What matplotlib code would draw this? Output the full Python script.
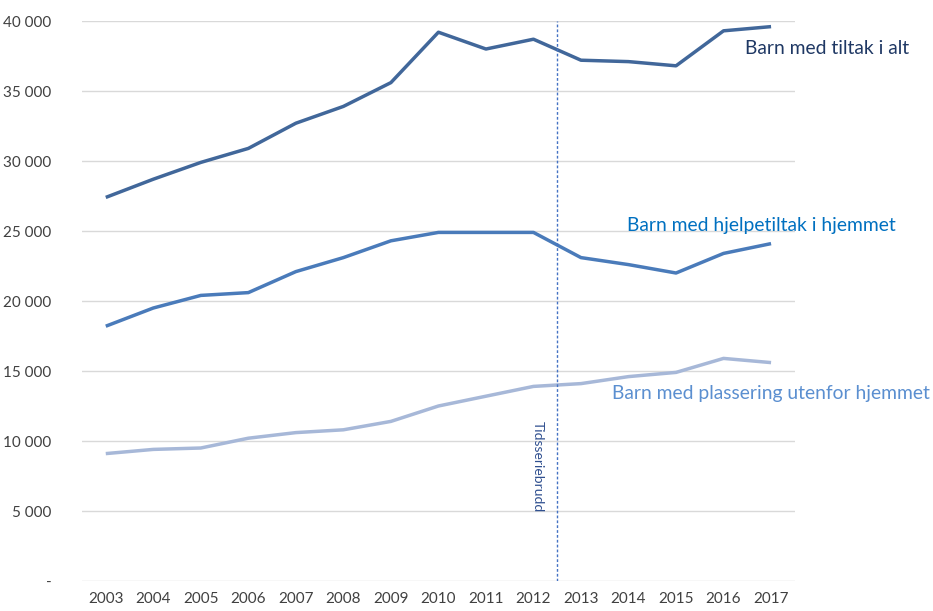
import numpy as np
import matplotlib.pyplot as plt

years = list(range(2003, 2018))
tiltak_i_alt = [27400, 28700, 29900, 30900, 32700, 33900, 35600, 39200, 38000, 38700,
                37200, 37100, 36800, 39300, 39600]
hjelpetiltak = [18200, 19500, 20400, 20600, 22100, 23100, 24300, 24900, 24900, 24900,
                23100, 22600, 22000, 23400, 24100]
plassering = [9100, 9400, 9500, 10200, 10600, 10800, 11400, 12500, 13200, 13900,
              14100, 14600, 14900, 15900, 15600]
yticks = [0, 5000, 10000, 15000, 20000, 25000, 30000, 35000, 40000]
ylabels = ['-', '5 000', '10 000', '15 000', '20 000', '25 000', '30 000', '35 000', '40 000']

plt.rcParams['font.family'] = ['Lato', 'DejaVu Sans']

W, H = 933, 611
fig = plt.figure(figsize=(W / 100, H / 100), dpi=100)
ax = fig.add_axes([0.0879, 0.0491, 0.764, 0.9165])

ax.plot(years, tiltak_i_alt, color='#41679A', lw=2.5, solid_capstyle='butt')
ax.plot(years, hjelpetiltak, color='#4A7BBA', lw=2.5, solid_capstyle='butt')
ax.plot(years, plassering, color='#A7B8D8', lw=2.5, solid_capstyle='butt')

ax.axvline(2012.5, color='#4472C4', lw=1, ls=(0, (2, 1.5)))
ax.text(2012.1, 8200, 'Tidsseriebrudd', rotation=-90, ha='center', va='center',
        fontsize=10, color='#2F4F8F')

# labels placed in figure pixels (from top-left)
def label(x, y, s, c):
    fig.text(x / W, 1 - y / H, s, fontsize=13.9, color=c, va='center', ha='left')

label(745, 49, 'Barn med tiltak i alt', '#1F3864')
label(627, 225, 'Barn med hjelpetiltak i hjemmet', '#0070C0')
label(612, 393, 'Barn med plassering utenfor hjemmet', '#5B8FD0')

ax.set_xlim(2002.5, 2017.5)
ax.set_ylim(0, 40000)
ax.set_xticks(years)
ax.set_yticks(yticks)
ax.set_yticklabels(ylabels)
ax.tick_params(length=0, labelsize=11, colors='#404040', pad=8)
ax.tick_params(axis='y', pad=22)
ax.grid(axis='y', color='#D9D9D9', lw=1)
ax.set_axisbelow(True)
for s in ax.spines.values():
    s.set_visible(False)

fig.savefig('out.png', dpi=100)
